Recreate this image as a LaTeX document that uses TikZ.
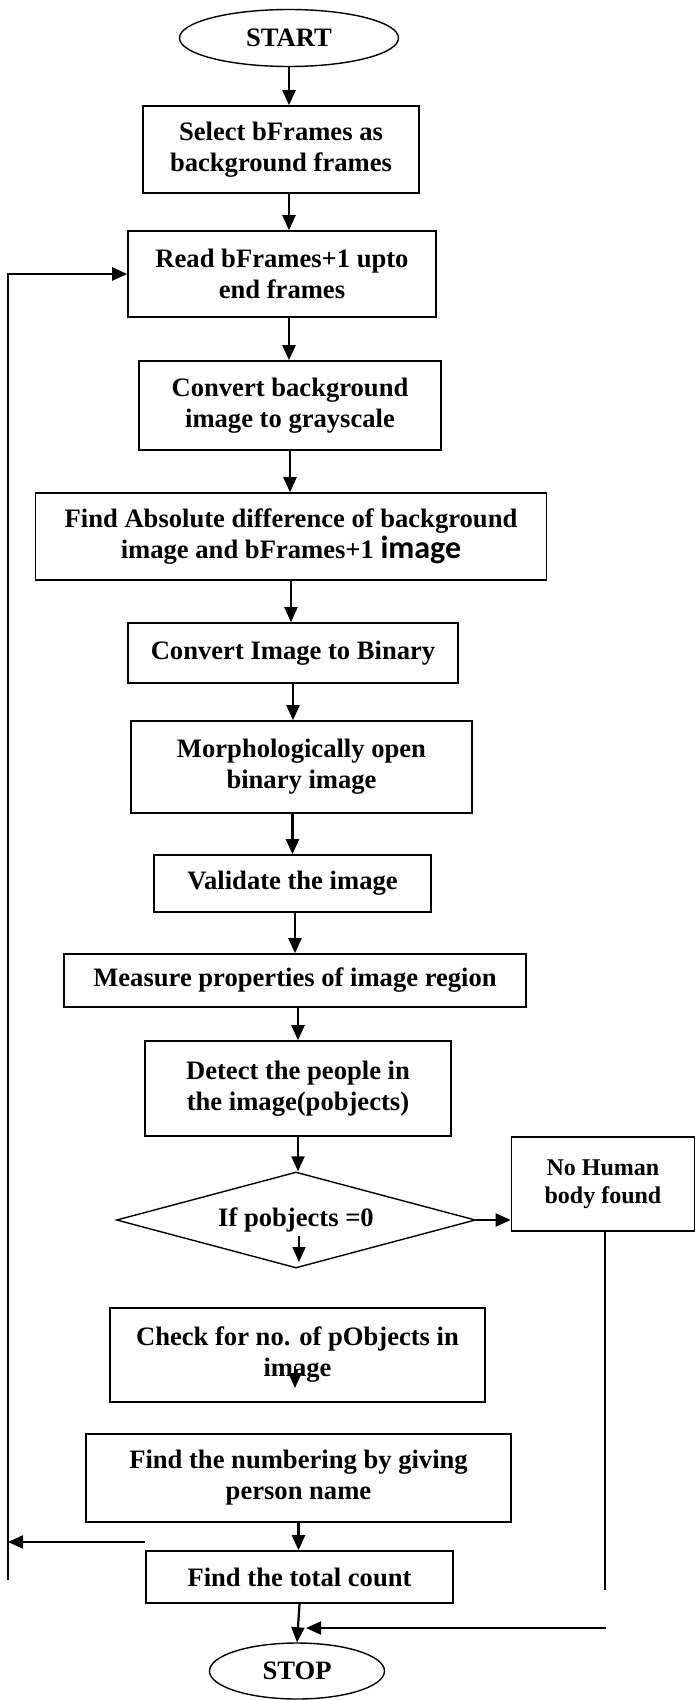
\documentclass[tikz,border=0pt]{standalone}
\usepackage{fontspec}
\setmainfont{Liberation Serif}
\newfontfamily\calibrifont{Carlito}
\usepackage{tikz}
\usetikzlibrary{shapes,arrows,positioning,calc,arrows.meta}

\begin{document}
\begin{tikzpicture}[x=1pt, y=-1pt,
    every node/.style={font=\fontsize{26.6}{31}\selectfont\bfseries},
    box/.style={draw, line width=1.6pt, rectangle, inner sep=0pt, align=center},
    term/.style={draw, line width=1.4pt, ellipse, inner sep=0pt},
    decision/.style={draw, line width=1.4pt, diamond, aspect=3.74, inner sep=0pt},
    arr/.style={line width=2.2pt, -{Triangle[length=15pt,width=13pt]}},
    wire/.style={line width=2pt}]
    \useasboundingbox (0,0) rectangle (696,1700);
    % main column
    \node[term, minimum width=219pt, minimum height=57pt] (start) at (289,38) {START};
    \node[box, minimum width=276pt, minimum height=87pt] (select) at (281,149.5) {Select bFrames as\\background frames};
    \node[box, minimum width=308pt, minimum height=86pt] (read) at (282,274) {Read bFrames+1 upto\\end frames};
    \node[box, minimum width=302pt, minimum height=89pt] (gray) at (290,405.5) {Convert background\\image to grayscale};
    \node[box, minimum width=511pt, minimum height=87pt] (absdiff) at (291,536.5) {Find Absolute difference of background\\image and bFrames+1 {\calibrifont\fontsize{32}{31}\selectfont image}};
    \node[box, minimum width=330pt, minimum height=60pt] (binary) at (293,653) {Convert Image to Binary};
    \node[box, minimum width=341pt, minimum height=92pt] (morph) at (301.5,767) {Morphologically open\\binary image};
    \node[box, minimum width=277pt, minimum height=57pt] (validate) at (292.5,883.5) {Validate the image};
    \node[box, minimum width=462pt, minimum height=53pt] (measure) at (295,980.5) {Measure properties of image region};
    \node[box, minimum width=306pt, minimum height=95pt] (detect) at (298,1088.5) {Detect the people in\\the image(pobjects)};
    \node[decision, minimum width=359pt, minimum height=96pt] (ifzero) at (296,1220) {If pobjects =0};
    \node[box, minimum width=183pt, minimum height=94pt, font=\fontsize{24}{28}\selectfont\bfseries] (nohuman) at (603,1184) {No Human\\body found};
    \node[box, minimum width=375pt, minimum height=94pt] (check) at (297.5,1355) {Check for no. of pObjects in\\image};
    \node[box, minimum width=425pt, minimum height=88pt] (naming) at (298.5,1478) {Find the numbering by giving\\person name};
    \node[box, minimum width=307pt, minimum height=52pt] (total) at (299.5,1577) {Find the total count};
    \node[term, minimum width=175pt, minimum height=56pt] (stop) at (297,1671) {STOP};

    % free ends
    \coordinate (ifin1) at (299,1236);
    \coordinate (ifin2) at (299,1262);
    \coordinate (chkin1) at (295,1366);
    \coordinate (chkin2) at (295,1388);
    \coordinate (loopbot) at (8,1580);
    \coordinate (back) at (145,1542);
    \coordinate (rbot) at (605,1590);
    \coordinate (rin) at (606,1628);
    \coordinate (rend) at (306,1628);

    % arrows
    \draw[arr] (start.south) -- (start.south |- select.north);
    \draw[arr] (select.south -| start) -- (read.north -| start);
    \draw[arr] (read.south -| start) -- (gray.north -| start);
    \draw[arr] (gray.south) -- (gray.south |- absdiff.north);
    \draw[arr] (absdiff.south) -- (absdiff.south |- binary.north);
    \draw[arr] (binary.south) -- (binary.south |- morph.north);
    \draw[arr] (validate.north |- morph.south) -- (validate.north);
    \draw[arr] (measure.north |- validate.south) -- (measure.north);
    \draw[arr] (detect.north |- measure.south) -- (detect.north);
    \draw[arr] (detect.south) -- (detect.south |- ifzero.north);
    \draw[arr, line width=1.8pt] (ifin1) -- (ifin2);
    \draw[arr] (ifzero.east) -- (ifzero.east -| nohuman.west);
    \draw[arr, line width=1.8pt] (chkin1) -- (chkin2);
    \draw[arr] (naming.south) -- (naming.south |- total.north);
    \draw[arr] (back) -- (back -| loopbot);
    \draw[arr] (loopbot) |- (read.west);
    \draw[wire] (nohuman.south -| rbot) -- (rbot);
    \draw[arr] (rin) -- (rend);
    \draw[arr] (total.south) -- (stop.north);
\end{tikzpicture}
\end{document}
